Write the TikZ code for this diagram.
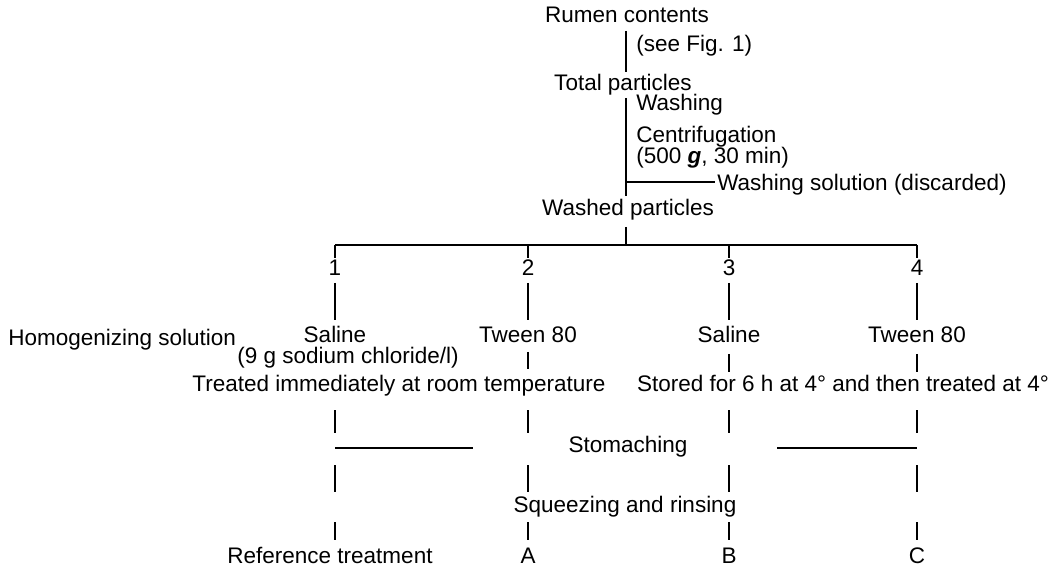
\documentclass[tikz,border=0pt]{standalone}
\usepackage{fontspec}
\setmainfont{Liberation Sans}
\begin{document}
\begin{tikzpicture}
		[x=0.025cm, y=-0.025cm,
		t/.style={font=\fontsize{16}{18}\selectfont, inner sep=0pt, text height=11.5pt, text depth=3.2pt},
		v/.style={line width=1.8pt},
		h/.style={line width=1.4pt}]

		\useasboundingbox (0,0) rectangle (1056,569);

		% stem and column positions
		\coordinate (c0) at (626,0);
		\coordinate (c1) at (335,0);
		\coordinate (c2) at (528,0);
		\coordinate (c3) at (729,0);
		\coordinate (c4) at (917,0);

		% top part
		\node[t] (rumen) at (627,17) {Rumen contents};
		\node[t, anchor=west] (seefig) at (636,46) {(see Fig. 1)};
		\node[t] (total) at (623,85) {Total particles};
		\node[t, anchor=west] (washing) at (636,105) {Washing};
		\node[t, anchor=west] (centrif) at (636,137) {Centrifugation};
		\node[t, anchor=west] (speed) at (636,158) {(500 \textbf{\textit{g}}, 30 min)};
		\node[t, anchor=west] (discard) at (717,185) {Washing solution (discarded)};
		\node[t] (washed) at (628,210) {Washed particles};

		\coordinate (a1) at (626,31);
		\coordinate (a2) at (626,72);
		\coordinate (b1) at (626,98);
		\coordinate (b2) at (626,196);
		\coordinate (br) at (626,182);
		\coordinate (bre) at (715,182);
		\coordinate (w1) at (626,227);
		\coordinate (w2) at (626,245);

		\draw[v] (a1) -- (a2);
		\draw[v] (b1) -- (b2);
		\draw[h] (br) -- (bre);
		\draw[v] (w1) -- (w2);
		\draw[h] (c1 |- w2) -- (c4 |- w2);

		% the four treatments
		\foreach \c/\n in {c1/1, c2/2, c3/3, c4/4} {
			\node[t] (num\n) at (\c |- 0,270) {\n};
			\draw[v] (\c |- w2) -- (\c |- 0,258);
			\draw[v] (\c |- 0,283) -- (\c |- 0,320);
			\draw[v] (\c |- 0,410) -- (\c |- 0,433);
			\draw[v] (\c |- 0,465) -- (\c |- 0,492);
			\draw[v] (\c |- 0,522) -- (\c |- 0,540);
		}

		\node[t, anchor=west] (homog) at (8,340) {Homogenizing solution};
		\node[t] (sol1) at (c1 |- 0,337) {Saline};
		\node[t] (nacl) at (348,358) {(9 g sodium chloride/l)};
		\node[t] (sol2) at (c2 |- 0,337) {Tween 80};
		\node[t] (sol3) at (c3 |- 0,337) {Saline};
		\node[t] (sol4) at (c4 |- 0,337) {Tween 80};

		\draw[v] (c2 |- 0,352) -- (c2 |- 0,369);
		\draw[v] (c3 |- 0,354) -- (c3 |- 0,372);
		\draw[v] (c4 |- 0,354) -- (c4 |- 0,372);

		\node[t] (treated) at (399,386) {Treated immediately at room temperature};
		\node[t] (stored) at (843,386) {Stored for 6 h at 4° and then treated at 4°};

		% processing
		\node[t] (stomach) at (628,447) {Stomaching};
		\coordinate (hl1) at (473,448);
		\coordinate (hr1) at (777,448);
		\draw[h] (c1 |- hl1) -- (hl1);
		\draw[h] (hr1) -- (c4 |- hr1);

		\node[t] (squeeze) at (625,507) {Squeezing and rinsing};

		% results
		\node[t] (ref) at (330,558) {Reference treatment};
		\node[t] (resA) at (c2 |- 0,558) {A};
		\node[t] (resB) at (c3 |- 0,558) {B};
		\node[t] (resC) at (c4 |- 0,558) {C};

\end{tikzpicture}
\end{document}
